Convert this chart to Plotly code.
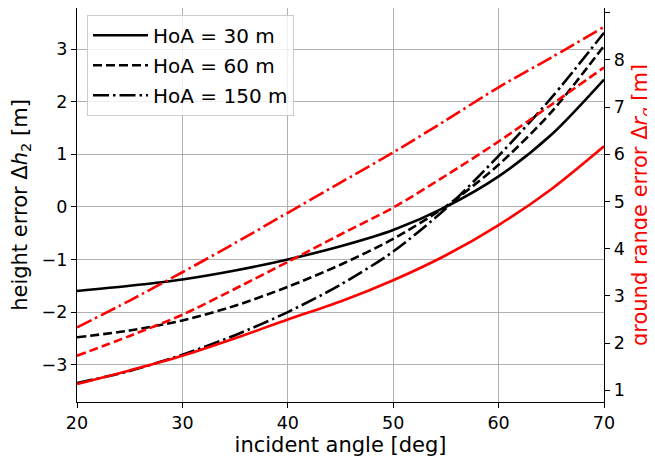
import plotly.graph_objects as go

angle = [20, 25, 30, 35, 40, 45, 50, 55, 60, 65, 70]

# height error (left axis) [m]
dh_30 = [-1.60, -1.50, -1.38, -1.21, -1.00, -0.75, -0.44, 0.00, 0.58, 1.37, 2.42]
dh_60 = [-2.48, -2.35, -2.16, -1.88, -1.52, -1.10, -0.61, 0.01, 0.80, 1.80, 3.06]
dh_150 = [-3.35, -3.12, -2.81, -2.44, -2.00, -1.48, -0.85, -0.03, 0.97, 2.07, 3.31]

# ground range error (right axis) [m]
dr_30 = [1.13, 1.42, 1.73, 2.10, 2.50, 2.88, 3.33, 3.86, 4.50, 5.26, 6.17]
dr_60 = [1.73, 2.15, 2.60, 3.15, 3.72, 4.30, 4.87, 5.55, 6.27, 7.05, 7.84]
dr_150 = [2.33, 2.90, 3.50, 4.12, 4.76, 5.40, 6.04, 6.72, 7.42, 8.05, 8.70]

labels = ["HoA = 30 m", "HoA = 60 m", "HoA = 150 m"]

DASH = "9px,4px"
DASHDOT = "16px,4px,2.5px,4px"
styles = ["solid", DASH, DASHDOT]
LW = 2.6

fig = go.Figure()
for i, (ys, lab, st) in enumerate(zip([dh_30, dh_60, dh_150], labels, styles)):
    fig.add_trace(go.Scatter(x=angle, y=ys, mode="lines", name=lab, legendgroup=f"g{i}",
                             line=dict(color="black", width=LW, dash=st, shape="spline",
                                       smoothing=0.8)))
for ys, st in zip([dr_30, dr_60, dr_150], styles):
    fig.add_trace(go.Scatter(x=angle, y=ys, mode="lines", showlegend=False, yaxis="y2",
                             line=dict(color="red", width=LW, dash=st, shape="spline",
                                       smoothing=0.8)))

FS = 17.5
fig.update_layout(
    width=647, height=456,
    margin=dict(l=69, r=51, t=0, b=62),
    paper_bgcolor="white", plot_bgcolor="white",
    font=dict(family="DejaVu Sans", size=FS, color="black"),
    xaxis=dict(range=[20, 70], tickvals=[20, 30, 40, 50, 60, 70], automargin=False,
               showgrid=True, gridcolor="#b0b0b0", gridwidth=1,
               showline=True, linecolor="black", linewidth=1.3, mirror=True,
               ticks="outside", ticklen=5, tickcolor="black", zeroline=False,
               title=dict(text="incident angle [deg]", standoff=4)),
    yaxis=dict(range=[-3.71, 3.78], tickvals=[-3, -2, -1, 0, 1, 2, 3], automargin=False,
               ticktext=["\u22123", "\u22122", "\u22121", "0", "1", "2", "3"],
               showgrid=True, gridcolor="#b0b0b0", gridwidth=1,
               showline=True, linecolor="black", linewidth=1.3, mirror=True,
               ticks="outside", ticklen=5, tickcolor="black", zeroline=False,
               title=dict(text="height error \u0394<i>h</i><sub>2</sub> [m]", standoff=8)),
    yaxis2=dict(range=[0.75, 9.1], tickvals=[1, 2, 3, 4, 5, 6, 7, 8, 9], automargin=False,
                overlaying="y", side="right", showgrid=False, zeroline=False,
                showline=True, linecolor="black", linewidth=1.3,
                ticks="outside", ticklen=5, tickcolor="black",
                title=dict(text="ground range error \u0394<i>r</i><sub><i>g</i></sub> [m]",
                           font=dict(color="red"), standoff=8)),
    legend=dict(x=0.019, y=0.983, xanchor="left", yanchor="top",
                bgcolor="rgba(255,255,255,0.8)", bordercolor="#cccccc", borderwidth=1,
                font=dict(size=20), tracegroupgap=1, itemwidth=55),
)

fig.write_html("out.html")
